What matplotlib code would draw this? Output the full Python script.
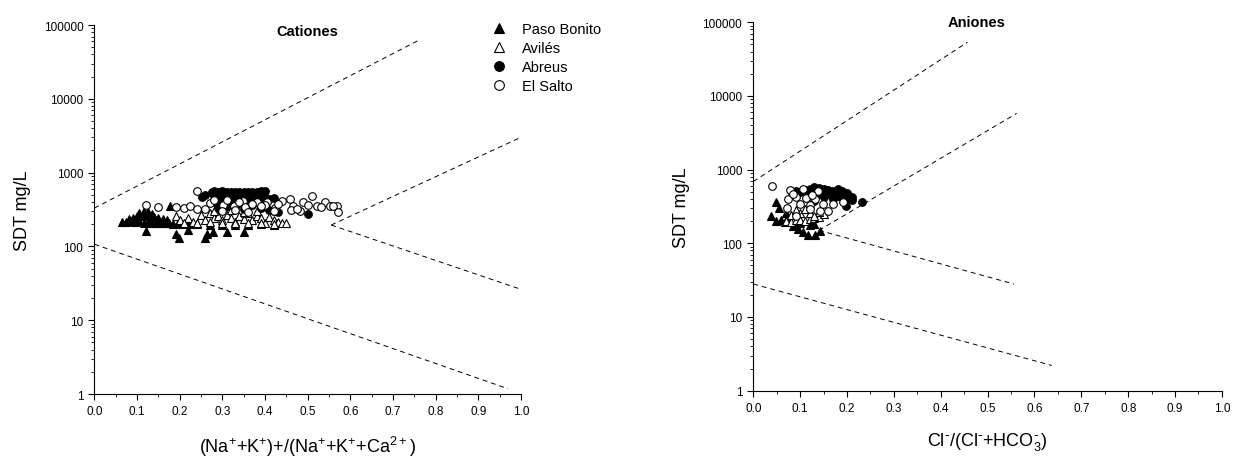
import matplotlib
matplotlib.use('Agg')
import matplotlib.pyplot as plt
from matplotlib.ticker import LogLocator, MultipleLocator, FixedFormatter, NullFormatter
from matplotlib.lines import Line2D

plt.rcParams['font.family'] = ['Liberation Sans', 'DejaVu Sans']
plt.rcParams['mathtext.default'] = 'regular'

# Diagrama de Gibbs - cationes
pb_cat_x = [0.065, 0.075, 0.085, 0.095, 0.105, 0.115, 0.125, 0.135, 0.145, 0.155, 0.165, 0.175, 0.185, 0.195, 0.205, 0.215, 0.225,
            0.08, 0.09, 0.10, 0.11, 0.12, 0.13, 0.14, 0.15, 0.16, 0.17,
            0.105, 0.115, 0.125, 0.135, 0.178,
            0.121, 0.19, 0.199, 0.22, 0.259, 0.263, 0.279, 0.31, 0.351,
            0.24, 0.27, 0.30, 0.33, 0.36, 0.39, 0.42]
pb_cat_y = [215, 212, 218, 214, 220, 210, 212, 208, 210, 205, 208, 206, 204, 206, 202, 205, 200,
            235, 245, 255, 262, 270, 258, 250, 245, 238, 230,
            285, 300, 290, 275, 350,
            164, 147, 129, 167, 129, 147, 155, 157, 155,
            200, 195, 198, 196, 198, 200, 198]

av_cat_x = [0.19, 0.20, 0.22, 0.23, 0.25, 0.26, 0.27, 0.28, 0.29, 0.30, 0.31, 0.32, 0.33, 0.34, 0.35, 0.36, 0.37,
            0.38, 0.39, 0.40, 0.41, 0.42, 0.43, 0.44, 0.45,
            0.21, 0.24, 0.27, 0.30, 0.33, 0.36, 0.39, 0.42,
            0.28, 0.32, 0.35, 0.38]
av_cat_y = [255, 230, 245, 215, 265, 230, 280, 240, 260, 225, 270, 245, 215, 255, 235, 280, 225,
            260, 240, 210, 250, 225, 215, 205, 211,
            210, 205, 212, 208, 205, 210, 206, 200,
            300, 310, 290, 305]

ab_cat_x = [0.251, 0.26, 0.275, 0.28, 0.29, 0.30, 0.31, 0.32, 0.33, 0.34, 0.35, 0.36, 0.37, 0.38, 0.39, 0.40,
            0.285, 0.295, 0.305, 0.315, 0.325, 0.335, 0.345, 0.355, 0.365, 0.375, 0.385, 0.395,
            0.28, 0.29, 0.30, 0.31, 0.32, 0.33, 0.34, 0.35, 0.36, 0.37, 0.38, 0.39, 0.40, 0.41,
            0.28, 0.30, 0.32, 0.34, 0.36, 0.38, 0.40, 0.42,
            0.29, 0.31, 0.33, 0.35, 0.37, 0.39, 0.41,
            0.42, 0.43, 0.50]
ab_cat_y = [462, 500, 540, 560, 555, 570, 550, 545, 540, 550, 545, 540, 550, 555, 565, 560,
            520, 525, 515, 520, 510, 515, 525, 510, 520, 515, 525, 520,
            480, 470, 490, 460, 470, 480, 450, 470, 460, 475, 465, 480, 470, 440,
            400, 380, 410, 390, 420, 400, 430, 460,
            330, 350, 340, 320, 360, 330, 310,
            300, 290, 275]

es_cat_x = [0.121, 0.150, 0.191, 0.210, 0.224, 0.240, 0.240, 0.259, 0.27, 0.302, 0.326, 0.349, 0.352, 0.380,
            0.404, 0.423, 0.439, 0.458, 0.466, 0.482, 0.490, 0.509, 0.521, 0.540, 0.552, 0.568, 0.572,
            0.28, 0.31, 0.34, 0.37, 0.40, 0.43, 0.46, 0.475, 0.50, 0.53, 0.56,
            0.30, 0.33, 0.36, 0.39, 0.42]
es_cat_y = [363, 339, 339, 328, 350, 569, 320, 321, 390, 364, 350, 417, 339, 396,
            404, 328, 417, 438, 350, 303, 396, 476, 350, 404, 350, 350, 290,
            420, 430, 400, 380, 360, 380, 310, 320, 360, 340, 350,
            300, 310, 290, 350, 300]

# Diagrama de Gibbs - aniones
pb_an_x = [0.038, 0.048, 0.049, 0.067, 0.085, 0.095, 0.106, 0.117, 0.131, 0.142, 0.06, 0.075, 0.09, 0.10, 0.12, 0.13, 0.055, 0.07]
pb_an_y = [237, 360, 203, 193, 174, 157, 141, 130, 130, 148, 210, 200, 185, 190, 175, 180, 300, 260]

av_an_x = [0.07, 0.08, 0.09, 0.10, 0.11, 0.12, 0.13, 0.14, 0.15, 0.08, 0.10, 0.12, 0.14, 0.09, 0.11, 0.13]
av_an_y = [200, 195, 210, 205, 200, 215, 220, 230, 250, 240, 260, 255, 270, 280, 290, 235]

ab_an_x = [0.08, 0.09, 0.10, 0.11, 0.12, 0.13, 0.14, 0.15, 0.16, 0.17, 0.18, 0.19, 0.20, 0.21, 0.231,
           0.12, 0.14, 0.16, 0.18, 0.20, 0.15, 0.17, 0.19, 0.13, 0.21, 0.198]
ab_an_y = [520, 510, 500, 530, 540, 590, 560, 550, 530, 520, 540, 510, 480, 420, 360,
           450, 470, 460, 440, 400, 420, 400, 420, 380, 390, 325]

es_an_x = [0.040, 0.079, 0.074, 0.072, 0.092, 0.099, 0.113, 0.120, 0.131, 0.138, 0.142, 0.149, 0.159, 0.170,
           0.191, 0.092, 0.106, 0.120, 0.085, 0.125]
es_an_y = [594, 535, 400, 299, 427, 340, 414, 330, 400, 517, 277, 340, 277, 340,
           360, 237, 548, 290, 470, 450]

# limites del diagrama (x, y) de cada linea discontinua
cat_lines = [([0.0, 0.761], [331, 62700]),
             ([0.555, 1.0], [195, 3020]),
             ([0.555, 0.995], [195, 26.8]),
             ([0.0, 0.969], [107, 1.18])]
an_lines = [([0.0, 0.457], [690, 53500]),
            ([0.14, 0.562], [150, 5800]),
            ([0.14, 0.556], [150, 28]),
            ([0.0, 0.637], [28, 2.2])]

series = ['Paso Bonito', 'Avilés', 'Abreus', 'El Salto']
ytick_vals = [1, 10, 100, 1000, 10000, 100000]
ytick_labels = ['1', '10', '100', '1000', '10000', '100000']

styles = [dict(marker='^', mfc='black', mec='black'),
          dict(marker='^', mfc='white', mec='black'),
          dict(marker='o', mfc='black', mec='black'),
          dict(marker='o', mfc='white', mec='black')]

fig = plt.figure(figsize=(12.33, 4.6), dpi=100)
ax1 = fig.add_axes([0.0766, 0.1413, 0.346, 0.802])
ax2 = fig.add_axes([0.611, 0.1485, 0.380, 0.801])


def setup(ax, title, tx, ty, xlabel):
    ax.set_yscale('log')
    ax.set_xlim(0, 1.0)
    ax.set_ylim(1, 100000)
    ax.spines['top'].set_visible(False)
    ax.spines['right'].set_visible(False)
    ax.xaxis.set_major_locator(MultipleLocator(0.1))
    ax.xaxis.set_minor_locator(MultipleLocator(0.05))
    ax.set_yticks(ytick_vals)
    ax.yaxis.set_major_formatter(FixedFormatter(ytick_labels))
    ax.yaxis.set_minor_locator(LogLocator(base=10, subs=range(2, 10), numticks=20))
    ax.yaxis.set_minor_formatter(NullFormatter())
    ax.xaxis.set_major_formatter(plt.FuncFormatter(lambda v, p: '%.1f' % v))
    ax.tick_params(which='major', direction='out', length=4.5, width=0.8, labelsize=8.5)
    ax.tick_params(which='minor', direction='out', length=2.2, width=0.6)
    ax.set_ylabel('SDT mg/L', fontsize=13, labelpad=9)
    ax.set_xlabel(xlabel, fontsize=13, labelpad=12)
    ax.text(tx, ty, title, transform=ax.transAxes, ha='center', va='center',
            fontsize=10.5, fontweight='bold')


def draw(ax, xs, ys, lines):
    for (lx, ly) in lines:
        ax.plot(lx, ly, color='black', lw=0.7, ls=(0, (5, 4)))
    for x, y, st in zip(xs, ys, styles):
        ax.plot(x, y, ls='none', ms=5.5, mew=0.8, **st)


setup(ax1, 'Cationes', 0.50, 0.985, r'(Na$^{+}$+K$^{+}$)+/(Na$^{+}$+K$^{+}$+Ca$^{2+}$)')
draw(ax1, [pb_cat_x, av_cat_x, ab_cat_x, es_cat_x], [pb_cat_y, av_cat_y, ab_cat_y, es_cat_y], cat_lines)

setup(ax2, 'Aniones', 0.476, 1.0, r'Cl$^{\text{-}}$/(Cl$^{\text{-}}$+HCO$^{\text{-}}_{3}$)')
draw(ax2, [pb_an_x, av_an_x, ab_an_x, es_an_x], [pb_an_y, av_an_y, ab_an_y, es_an_y], an_lines)

handles = [Line2D([], [], ls='none', ms=7, mew=0.8, **st) for st in styles]
ax1.legend(handles, series, loc='upper left', bbox_to_anchor=(0.9, 1.025), frameon=False,
           fontsize=10.5, handletextpad=0.6, labelspacing=0.35, borderaxespad=0)

fig.savefig('out.png', dpi=100)
